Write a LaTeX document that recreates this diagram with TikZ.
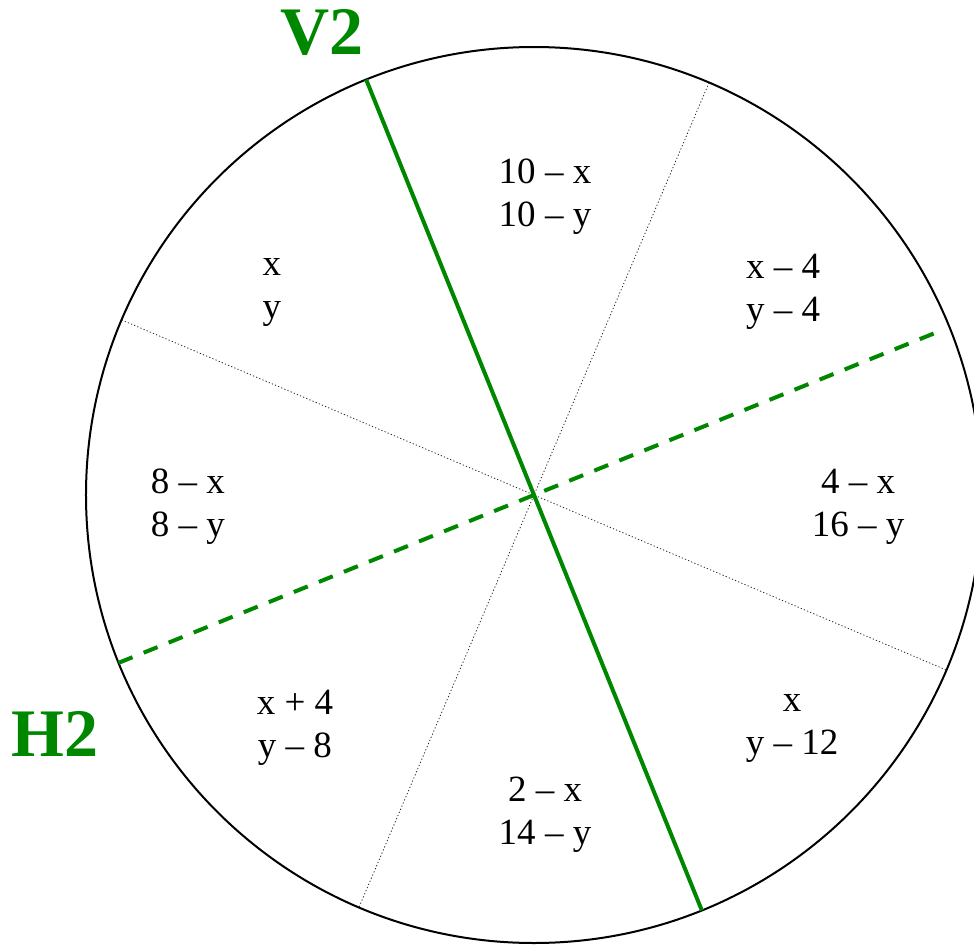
\documentclass[tikz,border=0pt]{standalone}
\usepackage{fontspec}
\setmainfont{Liberation Serif}
\usepackage{xcolor}
\usetikzlibrary{positioning}
\definecolor{splitgreen}{RGB}{0,135,0}

\begin{document}
\begin{tikzpicture}[
    x=0.5pt, y=0.5pt,
    share/.style={font=\fontsize{18.5}{21.5}\selectfont, align=center},
    cutname/.style={font=\fontsize{34}{40}\selectfont\bfseries, text=splitgreen},
    sector/.style={draw=black!85, line width=0.4pt, dash pattern=on 0.6pt off 1.1pt},
    cut/.style={draw=splitgreen, line width=2pt},
]
\useasboundingbox (-534,-449) rectangle (440,495);
\coordinate (c) at (0,0);
\draw[line width=1pt] (c) circle (448);

% dotted sector boundaries
\foreach \a in {67,157} {
    \coordinate (s\a) at (\a:448);
    \coordinate (t\a) at (\a+180:448);
    \draw[sector] (s\a) -- (t\a);
}

% the two cuts
\coordinate (v2top) at (112:448);
\coordinate (v2bot) at (292:448);
\coordinate (h2left) at (202:448);
\coordinate (h2right) at (22:436);
\draw[cut] (v2top) -- (v2bot);
\draw[cut, dash pattern=on 7.5pt off 6pt] (h2left) -- (h2right);

\node[cutname] (v2) at (-212,462) {V2};
\node[cutname] (h2) at (-479,-239) {H2};

% shares per sector
\node[share] (n)  at (11,298)    {10 -- x\\10 -- y};
\node[share] (ne) at (249,203)   {x -- 4\\y -- 4};
\node[share] (e)  at (324,-12)   {4 -- x\\16 -- y};
\node[share] (se) at (258,-233)  {x\\y -- 12};
\node[share] (s)  at (11,-320)   {2 -- x\\14 -- y};
\node[share] (sw) at (-239,-233) {x + 4\\y -- 8};
\node[share] (w)  at (-346,-12)  {8 -- x\\8 -- y};
\node[share] (nw) at (-262,203)  {x\\y};
\end{tikzpicture}
\end{document}
